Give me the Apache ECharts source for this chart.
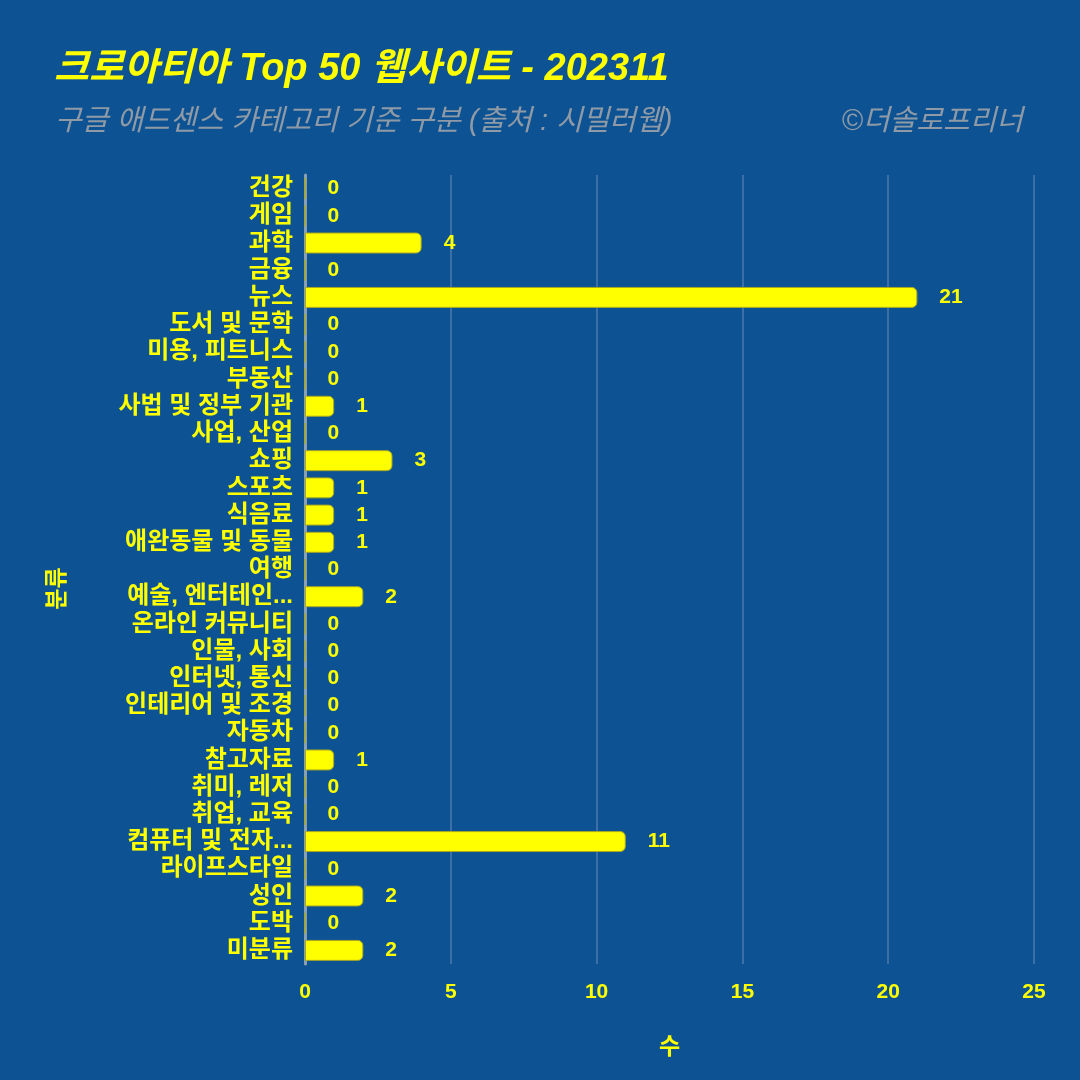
<!DOCTYPE html>
<html><head><meta charset="utf-8">
<script src="https://cdn.jsdelivr.net/npm/echarts@6/dist/echarts.min.js"></script>
<style>html,body{margin:0;padding:0;background:#0d5393;}#c{width:1080px;height:1080px;}</style>
</head><body><div id="c"></div>
<script>
const titleText = '크로아티아 Top 50 웹사이트 - 202311';
const subtitleText = '구글 애드센스 카테고리 기준 구분 (출처 : 시밀러웹)';
const creditText = '©더솔로프리너';
const categories = ['건강','게임','과학','금융','뉴스','도서 및 문학','미용, 피트니스','부동산','사법 및 정부 기관','사업, 산업','쇼핑','스포츠','식음료','애완동물 및 동물','여행','예술, 엔터테인...','온라인 커뮤니티','인물, 사회','인터넷, 통신','인테리어 및 조경','자동차','참고자료','취미, 레저','취업, 교육','컴퓨터 및 전자...','라이프스타일','성인','도박','미분류'];
const counts = [0,0,4,0,21,0,0,0,1,0,3,1,1,1,0,2,0,0,0,0,0,1,0,0,11,0,2,0,2];
const xName = '수';
const yName = '분류';
const xMin = 0, xMax = 25, xStep = 5;

const latin = '"Liberation Sans","Noto Sans CJK KR",sans-serif';
const yellow = '#ffff00';
const chart = echarts.init(document.getElementById('c'));
chart.setOption({
  backgroundColor: '#0d5393',
  title: [
    {text: titleText, left: 49, top: 46, textStyle: {color: yellow, fontSize: 38, fontWeight: 'bold', fontStyle: 'italic', fontFamily: latin}},
    {text: subtitleText, left: 50, top: 102, textStyle: {color: '#8f9aa6', fontSize: 29, fontWeight: 'normal', fontStyle: 'italic', fontFamily: latin}},
    {text: creditText, right: 52, top: 102, textStyle: {color: '#8f9aa6', fontSize: 29, fontWeight: 'normal', fontStyle: 'italic', fontFamily: latin}}
  ],
  grid: {left: 305, right: 46, top: 175, bottom: 116, containLabel: false},
  xAxis: {
    type: 'value', min: xMin, max: xMax, interval: xStep,
    name: xName, nameLocation: 'middle', nameGap: 72,
    nameTextStyle: {color: yellow, fontSize: 23, fontWeight: 'bold', fontFamily: latin},
    axisLine: {show: false}, axisTick: {show: false},
    axisLabel: {color: yellow, fontSize: 21, fontWeight: 'bold', fontFamily: latin, margin: 18},
    splitLine: {show: true, lineStyle: {color: '#3b6fa6', width: 2}}
  },
  yAxis: {
    type: 'category', data: categories, inverse: true,
    name: yName, nameLocation: 'middle', nameGap: 236, nameRotate: 90,
    nameTextStyle: {color: yellow, fontSize: 23, fontWeight: 'bold', fontFamily: latin, padding: [0, 38, 0, 0]},
    axisLine: {show: true, lineStyle: {color: '#8a9fb0', width: 3}},
    axisTick: {show: false},
    axisLabel: {interval: 0, color: yellow, fontSize: 24, fontWeight: 'bold', fontFamily: latin, margin: 12},
    splitLine: {show: false}
  },
  series: [{
    type: 'bar', data: counts, barWidth: '77%',
    itemStyle: {color: yellow, borderColor: '#a8a820', borderWidth: 1, borderRadius: [0, 5, 5, 0]},
    label: {show: true, position: 'right', distance: 22, color: yellow, fontSize: 21, fontWeight: 'bold', fontFamily: latin},
    silent: true, animation: false
  }],
  animation: false
});
</script></body></html>
